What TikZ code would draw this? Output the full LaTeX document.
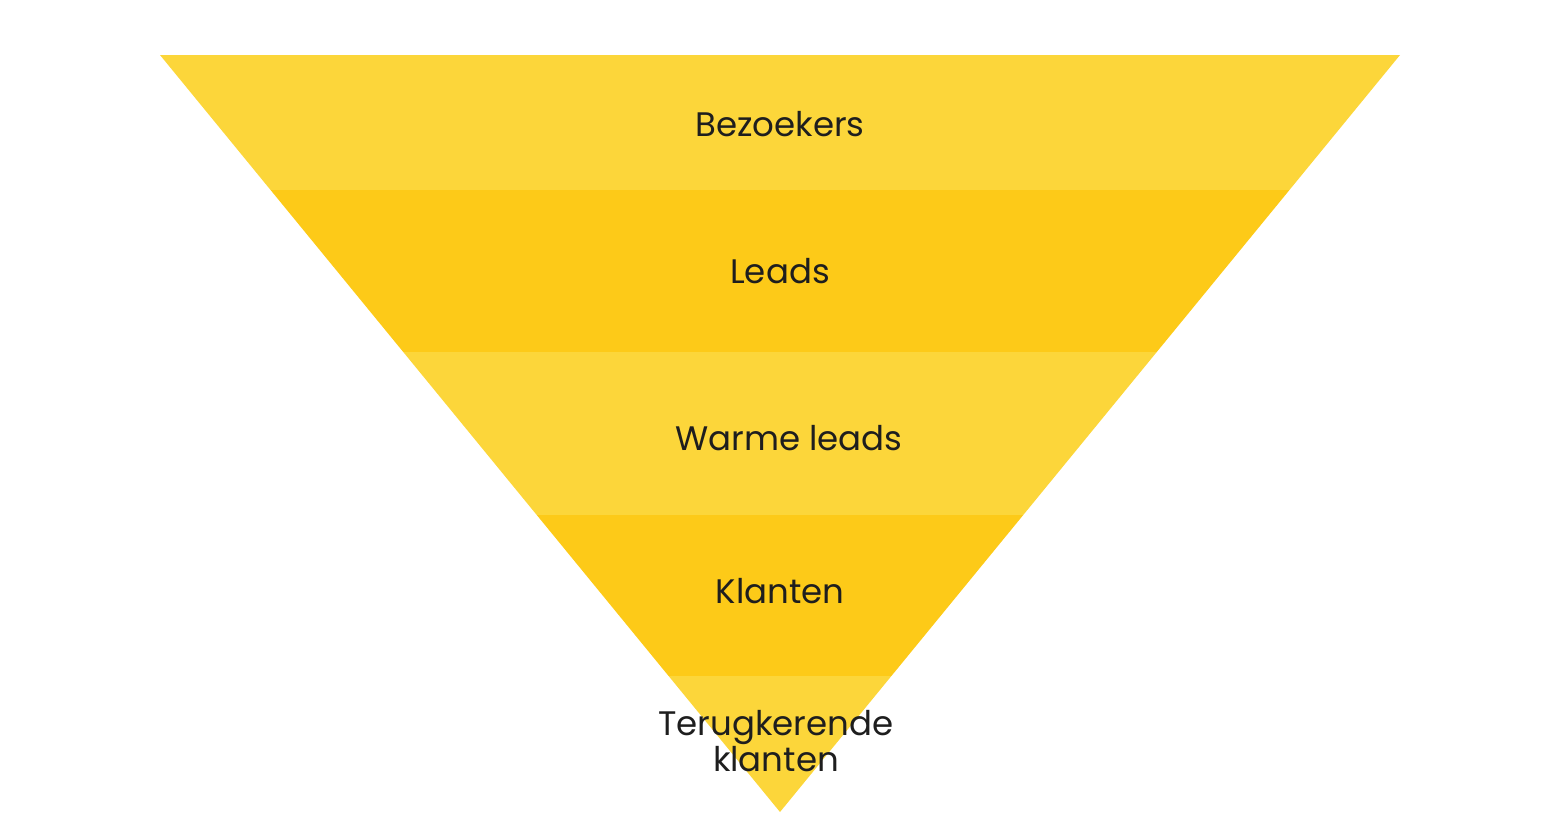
\documentclass[tikz,border=0pt]{standalone}
\usepackage{fontspec}
\setmainfont{Poppins}
\definecolor{lightband}{RGB}{252,214,58}
\definecolor{darkband}{RGB}{253,202,24}
\definecolor{labeltext}{RGB}{30,30,30}
\begin{document}
\begin{tikzpicture}[x=1pt,y=-1pt,
  lbl/.style={text=labeltext,font=\fontsize{34}{34}\selectfont,align=center,inner sep=0pt}]
\useasboundingbox (0,0) rectangle (1560,840);
\begin{scope}
\clip (160,55) -- (1400,55) -- (780,812) -- cycle;
\fill[lightband] (0,55) rectangle (1560,190);
\fill[darkband] (0,190) rectangle (1560,352);
\fill[lightband] (0,352) rectangle (1560,515);
\fill[darkband] (0,515) rectangle (1560,676);
\fill[lightband] (0,676) rectangle (1560,815);
\end{scope}
\node[lbl] (bez) at (780,124) {Bezoekers};
\node[lbl] (leads) at (780,271) {Leads};
\node[lbl] (warm) at (789,438) {Warme leads};
\node[lbl] (klant) at (780,591) {Klanten};
\node[lbl] (terug) at (776,741) {Terugkerende\\klanten};
\end{tikzpicture}
\end{document}
